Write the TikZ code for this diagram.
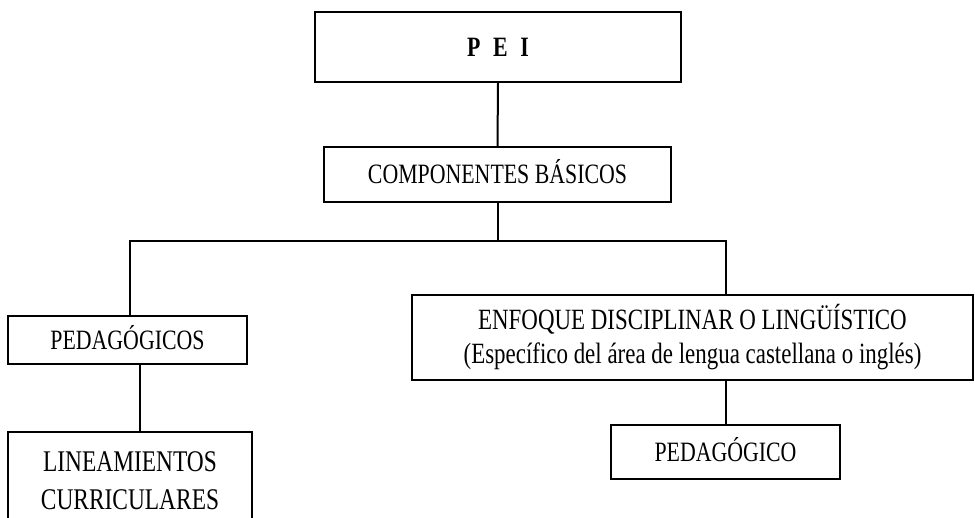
\documentclass[tikz,border=0pt]{standalone}
\usepackage{fontspec}
\setmainfont{Liberation Serif}[FakeStretch=0.78]
\usetikzlibrary{positioning, calc}
\tikzset{
    box/.style={draw, line width=1pt, rectangle, inner sep=0pt, align=center,
        font=\fontsize{14}{17}\selectfont},
    caps/.style={text height=9.3pt, text depth=0pt},
    link/.style={line width=1pt}
}
\begin{document}
\begin{tikzpicture}[x=0.5pt, y=-0.5pt]
    \useasboundingbox (0,0) rectangle (975,518);
    \clip (0,0) rectangle (975,518);
    % boxes
    \node[box, caps, minimum width=183pt, minimum height=35pt, font=\fontsize{14}{17}\selectfont\bfseries]
        (pei) at (498,47) {P\hspace{0.45em}E\hspace{0.45em}I};
    \node[box, caps, minimum width=173.5pt, minimum height=27.5pt] (comp) at (497.5,174.5) {COMPONENTES BÁSICOS};
    \node[box, caps, minimum width=119.5pt, minimum height=24pt] (ped) at (127.5,340) {PEDAGÓGICOS};
    \node[box, minimum width=122pt, minimum height=49pt, font=\fontsize{15}{19}\selectfont]
        (lin) at (130,481) {LINEAMIENTOS\\CURRICULARES};
    \node[box, minimum width=280.5pt, minimum height=42.5pt, font=\fontsize{14.7}{17}\selectfont]
        (enf) at (692.5,337.5) {ENFOQUE DISCIPLINAR O LINGÜÍSTICO\\(Específico del área de lengua castellana o inglés)};
    \node[box, caps, minimum width=114.5pt, minimum height=27pt] (pedo) at (725.5,452) {PEDAGÓGICO};
    % connectors
    \coordinate (barL) at (130,241);
    \coordinate (barR) at (726,241);
    \coordinate (lnk) at (140,0);
    \draw[link] (pei.south) -- (comp.north);
    \draw[link] (comp.south) -- (comp.south |- barL);
    \draw[link] (barL |- ped.north) -- (barL) -- (barR) -- (barR |- enf.north);
    \draw[link] (lnk |- ped.south) -- (lnk |- lin.north);
    \draw[link] (barR |- enf.south) -- (barR |- pedo.north);
\end{tikzpicture}
\end{document}
